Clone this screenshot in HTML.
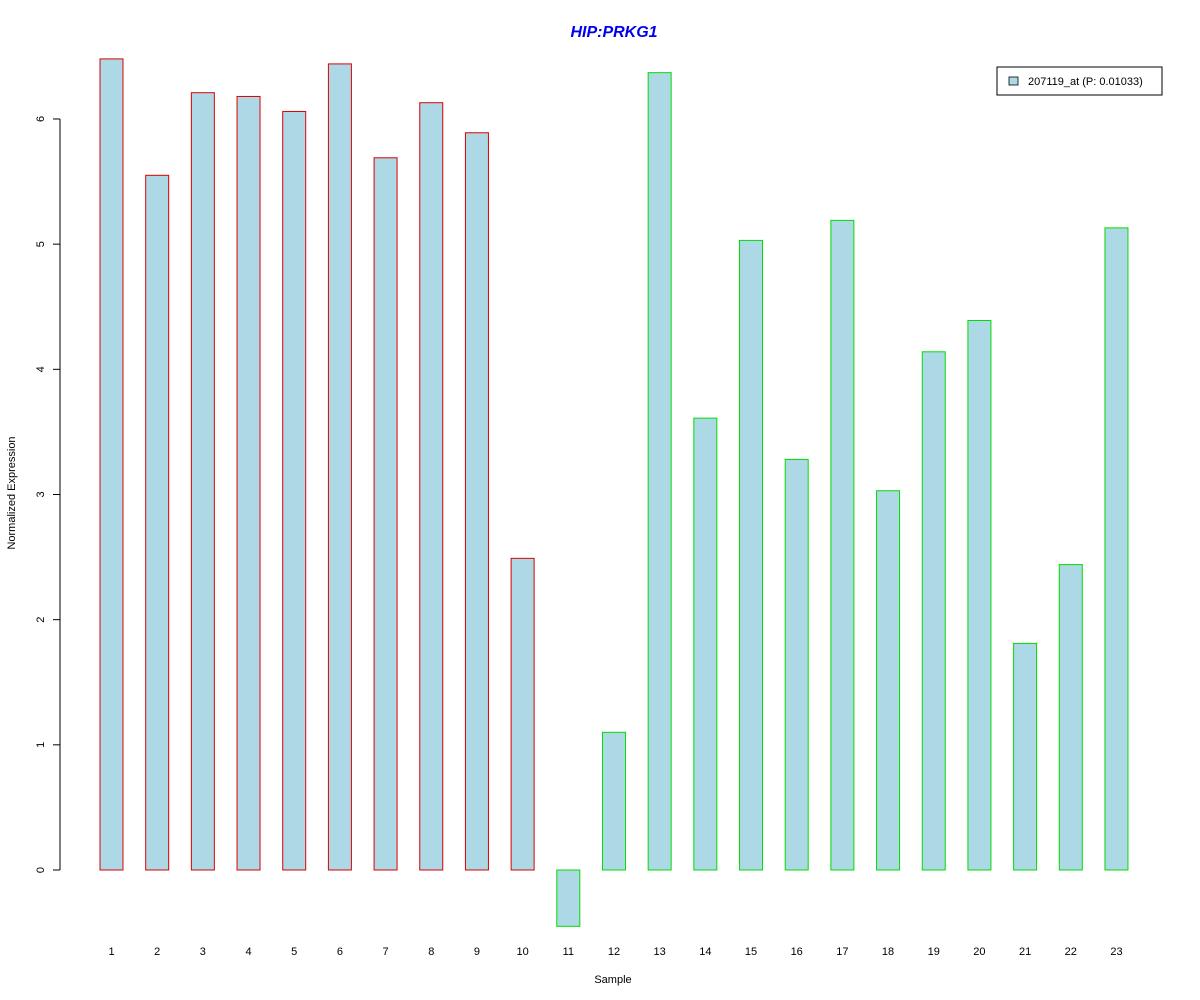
<!DOCTYPE html>
<html><head><meta charset="utf-8"><style>
body{margin:0;background:#fff;}
svg{display:block;font-family:"Liberation Sans",Arial,sans-serif;}
</style></head><body>
<svg id="chart" width="1200" height="1000">
<text x="614" y="37" text-anchor="middle" font-size="16" font-weight="bold" font-style="italic" fill="#0000ee">HIP:PRKG1</text>
<g id="yaxis"></g>
<g id="bars"></g>
<g id="xlabels"></g>
<text x="613" y="983" text-anchor="middle" font-size="11">Sample</text>
<text transform="translate(15,493) rotate(-90)" text-anchor="middle" font-size="11">Normalized Expression</text>
<g>
<rect x="997" y="67" width="165" height="28" fill="#fff" stroke="#000" stroke-width="1"/>
<rect x="1009" y="77" width="9" height="8" fill="#add8e6" stroke="#000" stroke-width="0.8"/>
<text x="1028" y="85" font-size="11">207119_at (P: 0.01033)</text>
</g>
</svg>
<script>
const categories=["1","2","3","4","5","6","7","8","9","10","11","12","13","14","15","16","17","18","19","20","21","22","23"];
const values=[6.48,5.55,6.21,6.18,6.06,6.44,5.69,6.13,5.89,2.49,-0.45,1.10,6.37,3.61,5.03,3.28,5.19,3.03,4.14,4.39,1.81,2.44,5.13];
const groups=["a","a","a","a","a","a","a","a","a","a","b","b","b","b","b","b","b","b","b","b","b","b","b"];
const yTicks=[0,1,2,3,4,5,6];
const NS="http://www.w3.org/2000/svg";
function y(v){return 870-v*125.17;}
function x(i){return 111.5+i*45.68;}
const ya=document.getElementById('yaxis');
function mk(t,a,p){const e=document.createElementNS(NS,t);for(const k in a)e.setAttribute(k,a[k]);p.appendChild(e);return e;}
mk('line',{x1:60,x2:60,y1:y(6),y2:y(0),stroke:'#000'},ya);
yTicks.forEach(t=>{
  const l=mk('line',{x1:53,x2:60,y1:y(t),y2:y(t),stroke:'#000'},ya);
  
  
  const tx=mk('text',{transform:`translate(44,${y(t)}) rotate(-90)`,'text-anchor':'middle','font-size':11},ya);
  tx.textContent=t;
  
  
});
const bg=document.getElementById('bars'),xl=document.getElementById('xlabels');
values.forEach((v,i)=>{
  const top=Math.min(y(v),y(0)),h=Math.abs(y(v)-y(0));
  const r=mk('rect',{x:x(i)-11.5,y:top,width:23,height:h,fill:'#add8e6',stroke:groups[i]==='a'?'#dd0000':'#00dd00','stroke-width':1},bg);
  
  
  const t=mk('text',{x:x(i),y:955,'text-anchor':'middle','font-size':11},xl);
  t.textContent=categories[i];
  
  
});
</script>
</body></html>
